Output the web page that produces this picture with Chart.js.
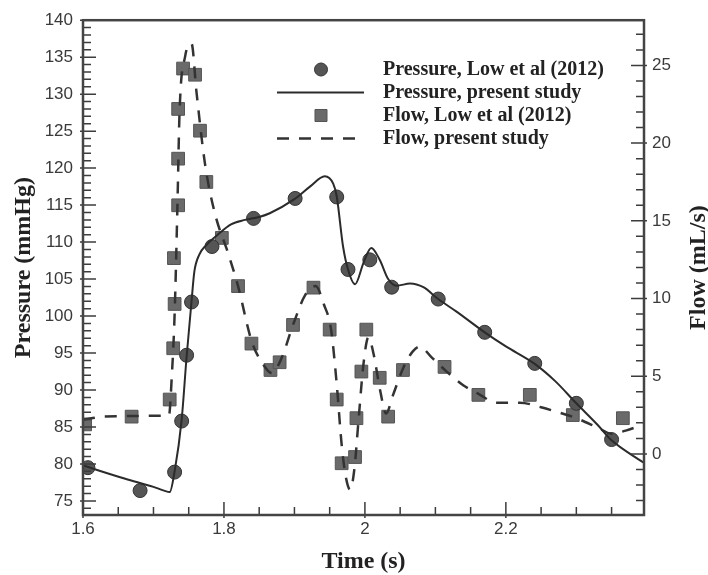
<!DOCTYPE html>
<html>
<head>
<meta charset="utf-8">
<script src="https://cdn.jsdelivr.net/npm/chart.js@4.4.1/dist/chart.umd.min.js"></script>
<style>
  body { margin: 0; background: #fff; }
  canvas { display: block; }
</style>
</head>
<body>
<canvas id="chart" width="708" height="575"></canvas>
<script>
// pressure and flow against time

// Low et al (2012) pressure samples
const pressureLowTime = [1.607, 1.681, 1.730, 1.740, 1.747, 1.754, 1.783, 1.842, 1.901, 1.960, 1.976, 2.007, 2.038, 2.104, 2.170, 2.241, 2.300, 2.350];
const pressureLowValue = [79.5, 76.4, 78.9, 85.8, 94.7, 101.9, 109.4, 113.2, 115.9, 116.1, 106.3, 107.6, 103.9, 102.3, 97.8, 93.6, 88.2, 83.3];

// present study pressure curve
const pressureStudyTime = [1.6, 1.66, 1.70, 1.715, 1.723, 1.730, 1.740, 1.747, 1.754, 1.758, 1.765, 1.775, 1.79, 1.81, 1.83, 1.85, 1.865, 1.90, 1.922, 1.943, 1.955, 1.960, 1.969, 1.976, 1.986, 1.998, 2.009, 2.021, 2.033, 2.045, 2.064, 2.083, 2.104, 2.13, 2.17, 2.20, 2.24, 2.27, 2.30, 2.33, 2.35, 2.395];
const pressureStudyValue = [79.8, 78.0, 76.9, 76.4, 76.2, 79.0, 86.0, 94.5, 102.0, 106.0, 108.3, 109.6, 110.9, 112.4, 113.0, 113.4, 113.9, 115.8, 117.5, 118.9, 117.9, 116.2, 109.4, 106.3, 104.3, 107.2, 109.2, 107.6, 105.0, 104.1, 104.4, 103.9, 102.3, 100.6, 97.8, 95.9, 93.6, 91.2, 88.2, 85.3, 83.2, 80.2];

// Low et al (2012) flow samples
const flowLowTime = [1.603, 1.669, 1.723, 1.728, 1.730, 1.729, 1.735, 1.735, 1.735, 1.742, 1.759, 1.766, 1.775, 1.797, 1.820, 1.839, 1.866, 1.879, 1.898, 1.927, 1.950, 1.960, 1.967, 1.986, 1.988, 1.995, 2.002, 2.021, 2.033, 2.054, 2.113, 2.161, 2.234, 2.295, 2.366];
const flowLowValue = [1.9, 2.4, 3.5, 6.8, 9.65, 12.6, 16.0, 19.0, 22.2, 24.8, 24.4, 20.8, 17.5, 13.9, 10.8, 7.1, 5.4, 5.9, 8.3, 10.7, 8.0, 3.5, -0.6, -0.2, 2.3, 5.3, 8.0, 4.9, 2.4, 5.4, 5.6, 3.8, 3.8, 2.5, 2.3];

// present study flow curve
const flowStudyTime = [1.6, 1.63, 1.70, 1.722, 1.726, 1.730, 1.734, 1.737, 1.745, 1.754, 1.761, 1.773, 1.787, 1.806, 1.820, 1.839, 1.855, 1.868, 1.882, 1.898, 1.915, 1.930, 1.942, 1.952, 1.960, 1.967, 1.973, 1.979, 1.985, 1.991, 1.998, 2.005, 2.012, 2.022, 2.030, 2.040, 2.055, 2.068, 2.078, 2.095, 2.116, 2.14, 2.16, 2.187, 2.22, 2.25, 2.28, 2.30, 2.33, 2.35, 2.37, 2.395];
const flowStudyValue = [2.2, 2.4, 2.45, 2.5, 5.0, 9.0, 16.0, 22.0, 25.6, 26.4, 23.3, 18.7, 15.5, 12.9, 10.8, 7.3, 5.8, 5.2, 6.2, 8.3, 10.2, 10.8, 9.6, 8.0, 4.5, 0.6, -1.5, -2.3, -1.0, 2.2, 5.8, 7.5, 6.5, 4.0, 2.6, 3.8, 5.6, 6.6, 6.9, 6.2, 5.3, 4.4, 3.9, 3.3, 3.3, 3.0, 2.6, 2.3, 1.7, 1.3, 1.5, 1.9];

const timeTicks = [1.6, 1.8, 2, 2.2];
const pressureTicks = [75, 80, 85, 90, 95, 100, 105, 110, 115, 120, 125, 130, 135, 140];
const flowTicks = [0, 5, 10, 15, 20, 25];

const legendLabels = ['Pressure, Low et al (2012)', 'Pressure, present study', 'Flow, Low et al (2012)', 'Flow, present study'];

const serif = 'Liberation Serif';

function points(xs, ys) {
  return xs.map((x, i) => ({ x, y: ys[i] }));
}

// inward tick marks plus the box round the plot
const frameTicks = {
  id: 'frameTicks',
  afterDraw(chart) {
    const { ctx, chartArea: a, scales } = chart;
    ctx.save();
    ctx.strokeStyle = '#3c3c3c';
    ctx.lineWidth = 1.5;
    ctx.beginPath();

    for (let i = 0; ; i++) {
      const v = 1.6 + i * 0.05;
      if (v > scales.x.max) break;
      const px = scales.x.getPixelForValue(v);
      const len = i % 4 === 0 ? 13 : 8;
      ctx.moveTo(px, a.bottom + (i % 4 === 0 ? 3 : 0));
      ctx.lineTo(px, a.bottom - len);
    }
    for (let v = 74; v <= 140; v++) {
      const py = scales.y.getPixelForValue(v);
      const major = v % 5 === 0;
      ctx.moveTo(a.left - (major ? 3 : 0), py);
      ctx.lineTo(a.left + (major ? 13 : 8), py);
    }
    for (let v = -3; v <= 27; v++) {
      const py = scales.y1.getPixelForValue(v);
      const major = v % 5 === 0;
      ctx.moveTo(a.right + (major ? 3 : 0), py);
      ctx.lineTo(a.right - (major ? 13 : 8), py);
    }
    ctx.stroke();

    ctx.lineWidth = 2.5;
    ctx.strokeStyle = '#444';
    ctx.strokeRect(a.left, a.top, a.right - a.left, a.bottom - a.top);

    // right axis title reads upwards like the left one
    ctx.fillStyle = '#222';
    ctx.font = 'bold 24px "' + serif + '"';
    ctx.textAlign = 'center';
    ctx.textBaseline = 'middle';
    ctx.translate(699, (a.top + a.bottom) / 2);
    ctx.rotate(-Math.PI / 2);
    ctx.fillText('Flow (mL/s)', 0, 0);
    ctx.restore();
  }
};

// legend inside the plot, top right
const boxLegend = {
  id: 'boxLegend',
  afterDraw(chart) {
    const { ctx } = chart;
    ctx.save();
    chart.data.datasets.forEach((ds, i) => {
      const y = 69.5 + i * 23;
      if (ds.showLine) {
        ctx.strokeStyle = ds.borderColor;
        ctx.lineWidth = ds.borderWidth;
        ctx.setLineDash(ds.borderDash || []);
        ctx.beginPath();
        ctx.moveTo(277, y);
        ctx.lineTo(364, y);
        ctx.stroke();
        ctx.setLineDash([]);
      } else {
        ctx.fillStyle = ds.backgroundColor;
        ctx.strokeStyle = ds.borderColor;
        ctx.lineWidth = ds.borderWidth;
        Chart.helpers.drawPoint(ctx, { pointStyle: ds.pointStyle, radius: ds.pointRadius - 0.5, rotation: 0, borderWidth: ds.borderWidth }, 321, y);
      }
      ctx.fillStyle = '#222';
      ctx.font = 'bold 20px "' + serif + '"';
      ctx.textAlign = 'left';
      ctx.textBaseline = 'middle';
      ctx.fillText(ds.label, 383, y);
    });
    ctx.restore();
  }
};

Chart.defaults.font.family = 'Liberation Sans';

new Chart(document.getElementById('chart'), {
  type: 'scatter',
  data: {
    datasets: [
      {
        label: legendLabels[0],
        data: points(pressureLowTime, pressureLowValue),
        yAxisID: 'y',
        pointStyle: 'circle',
        pointRadius: 7,
        backgroundColor: '#555',
        borderColor: '#333',
        borderWidth: 1,
        order: 2
      },
      {
        label: legendLabels[1],
        data: points(pressureStudyTime, pressureStudyValue),
        yAxisID: 'y',
        showLine: true,
        pointRadius: 0,
        borderColor: '#2b2b2b',
        borderWidth: 2,
        cubicInterpolationMode: 'monotone',
        order: 1
      },
      {
        label: legendLabels[2],
        data: points(flowLowTime, flowLowValue),
        yAxisID: 'y1',
        pointStyle: 'rect',
        pointRadius: 9,
        backgroundColor: '#6a6a6a',
        borderColor: '#555',
        borderWidth: 1,
        order: 2
      },
      {
        label: legendLabels[3],
        data: points(flowStudyTime, flowStudyValue),
        yAxisID: 'y1',
        showLine: true,
        pointRadius: 0,
        borderColor: '#333',
        borderWidth: 2.5,
        borderDash: [12, 10],
        cubicInterpolationMode: 'monotone',
        order: 1
      }
    ]
  },
  options: {
    responsive: false,
    animation: false,
    devicePixelRatio: 1,
    layout: { padding: { top: 15, left: 0, right: 0, bottom: 0 } },
    plugins: {
      legend: { display: false },
      tooltip: { enabled: false }
    },
    scales: {
      x: {
        type: 'linear',
        min: 1.6,
        max: 2.396,
        afterFit: s => { s.height = 60; },
        afterBuildTicks: s => { s.ticks = timeTicks.map(v => ({ value: v })); },
        grid: { display: false, drawTicks: false },
        border: { display: false },
        ticks: { padding: 4, color: '#3a3a3a', font: { size: 17 }, callback: v => String(v) },
        title: {
          display: true,
          text: 'Time (s)',
          color: '#222',
          font: { family: serif, size: 24, weight: 'bold', lineHeight: 1 },
          padding: { top: 0, bottom: 1 }
        }
      },
      y: {
        type: 'linear',
        position: 'left',
        min: 73.1,
        max: 140,
        afterFit: s => { s.width = 83; },
        afterBuildTicks: s => { s.ticks = pressureTicks.map(v => ({ value: v })); },
        grid: { display: false, drawTicks: false },
        border: { display: false },
        ticks: { padding: 10, color: '#3a3a3a', font: { size: 17 }, callback: v => String(v) },
        title: {
          display: true,
          text: 'Pressure (mmHg)',
          color: '#222',
          font: { family: serif, size: 24, weight: 'bold', lineHeight: 1 },
          padding: { top: 12, bottom: 0 }
        }
      },
      y1: {
        type: 'linear',
        position: 'right',
        min: -3.93,
        max: 27.91,
        afterFit: s => { s.width = 64; },
        afterBuildTicks: s => { s.ticks = flowTicks.map(v => ({ value: v })); },
        grid: { display: false, drawTicks: false },
        border: { display: false },
        ticks: { padding: 8, color: '#3a3a3a', font: { size: 17 }, callback: v => String(v) }
      }
    }
  },
  plugins: [frameTicks, boxLegend]
});
</script>
</body>
</html>
